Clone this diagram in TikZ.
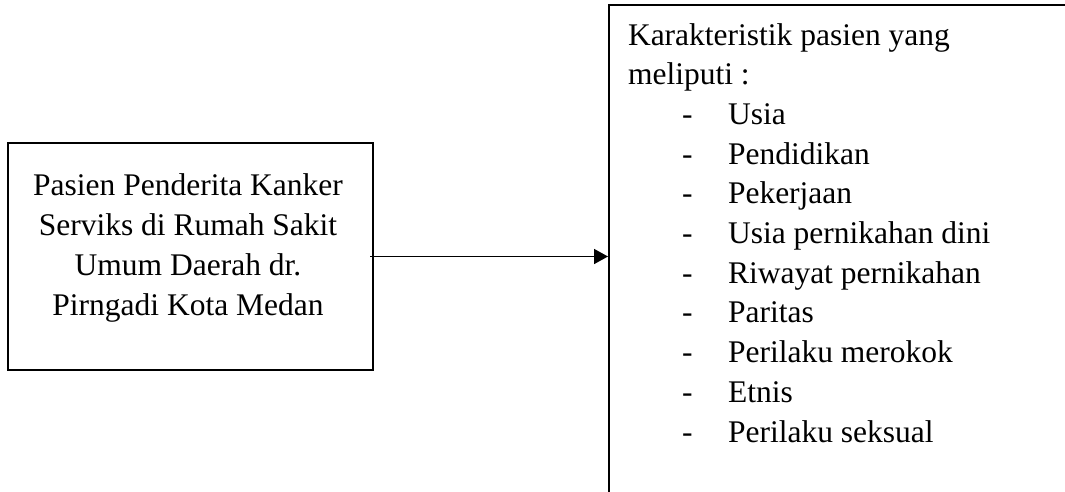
\documentclass[tikz,border=0pt]{standalone}
\usepackage{fontspec}
\setmainfont{Liberation Serif}
\usetikzlibrary{arrows.meta}
\begin{document}
\begin{tikzpicture}[x=1pt,y=-1pt,
  boxnode/.style={draw=black,line width=2pt,rectangle,inner sep=0pt},
  txt/.style={inner sep=0pt,outer sep=0pt,font=\fontsize{31.5}{39.7}\selectfont},
  conn/.style={line width=1.6pt,-{Triangle[length=14pt,width=15pt]}}]
\useasboundingbox (0,0) rectangle (1065,491);
\clip (0,0) rectangle (1065,491);
\fill[white] (0,0) rectangle (1065,491);
% left box
\node[boxnode,minimum width=365pt,minimum height=227pt] (left) at (190.5,256.5) {};
\node[txt,anchor=base,align=center] (lefttext) at (188,315) {Pasien Penderita Kanker\\Serviks di Rumah Sakit\\Umum Daerah dr.\\Pirngadi Kota Medan};
% right box (runs past the picture edge)
\node[boxnode,minimum width=500pt,minimum height=520pt] (right) at (859,265) {};
\node[txt,anchor=base west] (head1) at (628,45) {Karakteristik pasien yang};
\node[txt,anchor=base west] (head2) at (628,84.7) {meliputi :};
\foreach \i/\t in {0/Usia,1/Pendidikan,2/Pekerjaan,3/Usia pernikahan dini,4/Riwayat pernikahan,5/Paritas,6/Perilaku merokok,7/Etnis,8/Perilaku seksual}{
  \node[txt,anchor=base west] (dash\i) at (682,{124.4+39.7*\i}) {-};
  \node[txt,anchor=base west] (item\i) at (728,{124.4+39.7*\i}) {\t};
}
\coordinate (astart) at ([xshift=-4pt]left.east);
\draw[conn] (astart) -- (astart -| right.west);
\end{tikzpicture}
\end{document}
